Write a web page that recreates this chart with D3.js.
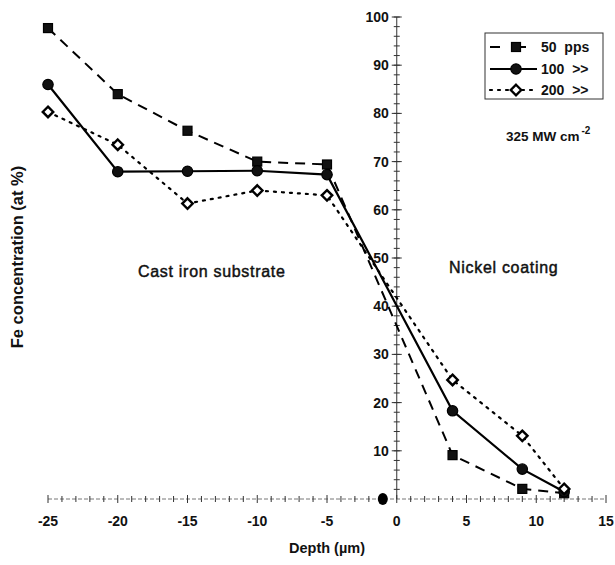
<!DOCTYPE html>
<html><head><meta charset="utf-8">
<script src="https://cdn.jsdelivr.net/npm/d3@7"></script>
<style>
body{margin:0;background:#fff;}
svg text{font-family:"Liberation Sans",Arial,sans-serif;fill:#111;}
</style></head>
<body><svg id="c" width="615" height="565"></svg>
<script>
const depth = [-25, -20, -15, -10, -5, 4, 9, 12];
const pps50 = [97.7, 84, 76.4, 70, 69.4, 9.1, 2.1, 1.2];
const pps100 = [86, 67.9, 68, 68.1, 67.3, 18.3, 6.2, 1.5];
const pps200 = [80.3, 73.5, 61.3, 64, 63, 24.7, 13.1, 2.1];
const extra200 = [{x: -1, y: 0}];
const xTickLabels = [-25, -20, -15, -10, -5, 0, 5, 10, 15];
const yTickLabels = [10, 20, 30, 40, 50, 60, 70, 80, 90, 100];
const seriesNames = ["50  pps", "100  >>", "200  >>"];

const svg = d3.select("#c");
const x = d3.scaleLinear().domain([-25, 15]).range([48, 606]);
const y = d3.scaleLinear().domain([0, 100]).range([499, 17]);

// X axis
const gx = svg.append("g");
gx.append("line").attr("x1", x(-25)).attr("x2", x(15)).attr("y1", y(0)).attr("y2", y(0))
  .attr("stroke", "#777").attr("stroke-width", 1).attr("stroke-dasharray", "4,2");
gx.selectAll("line.t").data(d3.range(-25, 16, 1)).join("line").attr("class", "t")
  .attr("x1", d => x(d)).attr("x2", d => x(d))
  .attr("y1", d => y(0) - (d % 5 === 0 ? 4 : 3)).attr("y2", d => y(0) + (d % 5 === 0 ? 4 : 3))
  .attr("stroke", "#333").attr("stroke-width", 1);
gx.selectAll("text").data(xTickLabels).join("text")
  .attr("x", d => x(d)).attr("y", 526).attr("text-anchor", "middle")
  .attr("font-size", 14).attr("font-weight", "bold").text(d => d);

// Y axis
const gy = svg.append("g");
gy.append("line").attr("x1", x(0)).attr("x2", x(0)).attr("y1", y(0)).attr("y2", y(100))
  .attr("stroke", "#333").attr("stroke-width", 1);
gy.selectAll("line.t").data(d3.range(2, 101, 2)).join("line").attr("class", "t")
  .attr("x1", x(0) - 3).attr("x2", x(0) + 3).attr("y1", d => y(d)).attr("y2", d => y(d))
  .attr("stroke", "#333").attr("stroke-width", 1);
gy.selectAll("line.m").data(yTickLabels).join("line").attr("class", "m")
  .attr("x1", x(0) - 5).attr("x2", x(0) + 5).attr("y1", d => y(d)).attr("y2", d => y(d))
  .attr("stroke", "#333").attr("stroke-width", 1);
gy.selectAll("text").data(yTickLabels).join("text")
  .attr("x", x(0) - 8).attr("y", d => y(d) + 5).attr("text-anchor", "end")
  .attr("font-size", 14).attr("font-weight", "bold").text(d => d);

// Titles
svg.append("text").attr("x", 327).attr("y", 553).attr("text-anchor", "middle")
  .attr("font-size", 14.5).attr("font-weight", "bold").text("Depth (µm)");
svg.append("text").attr("transform", "translate(23,257) rotate(-90)").attr("text-anchor", "middle")
  .attr("font-size", 16.5).attr("font-weight", "bold").text("Fe concentration (at %)");

// Annotations
svg.append("text").attr("x", 138).attr("y", 277).attr("font-size", 16)
  .attr("letter-spacing", 0.7).attr("stroke", "#111").attr("stroke-width", 0.45).text("Cast iron substrate");
svg.append("text").attr("x", 449).attr("y", 273).attr("font-size", 16)
  .attr("letter-spacing", 0.7).attr("stroke", "#111").attr("stroke-width", 0.45).text("Nickel coating");
const ann = svg.append("text").attr("x", 506).attr("y", 141).attr("font-size", 13.5).attr("font-weight", "bold");
ann.append("tspan").text("325 MW cm");
ann.append("tspan").attr("dx", 2).attr("dy", -7).attr("font-size", 10).text("-2");

// Series
const mk = (vals) => depth.map((d, i) => ({x: d, y: vals[i]}));
const line = d3.line().x(d => x(d.x)).y(d => y(d.y));
const styles = [
  {data: mk(pps50), dash: "10,7", width: 2, marker: "square"},
  {data: mk(pps100), dash: null, width: 2.2, marker: "circle"},
  {data: mk(pps200), dash: "2,6", width: 2.2, marker: "diamond"}
];

function drawMarker(g, type, cx, cy) {
  if (type === "square") {
    g.append("rect").attr("x", cx - 4.5).attr("y", cy - 4.5).attr("width", 9).attr("height", 9)
      .attr("fill", "#111").attr("stroke", "#000").attr("stroke-width", 1.2);
  } else if (type === "circle") {
    g.append("circle").attr("cx", cx).attr("cy", cy).attr("r", 5.2)
      .attr("fill", "#111").attr("stroke", "#000").attr("stroke-width", 1.2);
  } else {
    g.append("path").attr("d", d3.symbol().type(d3.symbolDiamond2).size(70)())
      .attr("transform", `translate(${cx},${cy})`)
      .attr("fill", "#fff").attr("stroke", "#000").attr("stroke-width", 2.4);
  }
}

styles.forEach(s => {
  svg.append("path").datum(s.data).attr("d", line).attr("fill", "none")
    .attr("stroke", "#000").attr("stroke-width", s.width)
    .attr("stroke-dasharray", s.dash).attr("stroke-linecap", s.dash === "2,6" ? "round" : "butt");
  const g = svg.append("g");
  s.data.forEach(d => drawMarker(g, s.marker, x(d.x), y(d.y)));
});
{
  const g = svg.append("g");
  extra200.forEach(d => {
    g.append("ellipse").attr("cx", x(d.x)).attr("cy", y(d.y)).attr("rx", 5).attr("ry", 6)
      .attr("fill", "#000");
  });
}

// Legend
const lg = svg.append("g");
lg.append("rect").attr("x", 485).attr("y", 33).attr("width", 118).attr("height", 66)
  .attr("fill", "#fff").attr("stroke", "#333").attr("stroke-width", 1);
const rowY = [47, 69, 90];
styles.forEach((s, i) => {
  lg.append("line").attr("x1", 490).attr("x2", 537).attr("y1", rowY[i]).attr("y2", rowY[i])
    .attr("stroke", "#000").attr("stroke-width", s.width)
    .attr("stroke-dasharray", s.dash === "10,7" ? "10,16" : (s.dash ? "2,6" : null))
    .attr("stroke-linecap", s.dash === "2,6" ? "round" : "butt");
  drawMarker(lg, s.marker, 516, rowY[i]);
  lg.append("text").attr("x", 541).attr("y", rowY[i] + 5).attr("font-size", 14)
    .attr("font-weight", "bold").style("white-space", "pre").text(seriesNames[i]);
});
</script></body></html>
